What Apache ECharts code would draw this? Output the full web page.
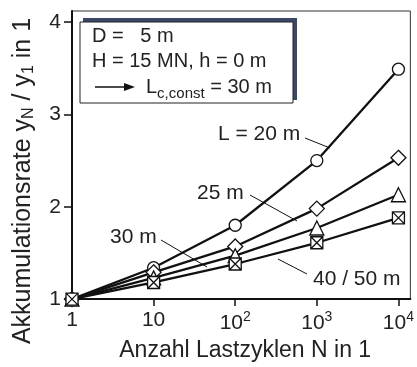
<!DOCTYPE html>
<html><head><meta charset="utf-8">
<script src="https://cdn.jsdelivr.net/npm/echarts@6/dist/echarts.min.js"></script>
<style>html,body{margin:0;padding:0;background:#fff}#c{width:417px;height:367px}</style>
</head><body><div id="c"></div>
<script>
// ---- data ----
const cycles = [1, 10, 100, 1000, 10000];
const valsL20 = [1, 1.34, 1.80, 2.50, 3.49];
const valsL25 = [1, 1.29, 1.57, 1.98, 2.53];
const valsL30 = [1, 1.23, 1.47, 1.77, 2.13];
const valsL4050 = [1, 1.18, 1.38, 1.61, 1.88];
const yTicks = [1, 2, 3, 4];
const xTicks = [1, 10, 100, 1000, 10000];
const seriesNames = ['L = 20 m', '25 m', '30 m', '40 / 50 m'];

const FONT = '"Liberation Sans", Arial, sans-serif';
const TXT = '#222';
const INK = '#111';

function pairs(vals){ return cycles.map((n,i)=>[n, vals[i]]); }

const xSquare = 'path://M0 0H10V10H0Z M0 0L10 10 M10 0L0 10';

function mk(name, vals, symbol, size){
  return {
    name, type:'line', data: pairs(vals), symbol, symbolSize: size,
    lineStyle:{color:INK, width:2.3},
    itemStyle:{color:'#fff', borderColor:INK, borderWidth:1.3},
    emphasis:{disabled:true}, animation:false, z:3
  };
}

const chart = echarts.init(document.getElementById('c'), null, {renderer:'canvas'});
chart.setOption({
  animation:false,
  backgroundColor:'#fff',
  textStyle:{fontFamily:FONT},
  grid:{left:72, right:5, top:11, bottom:63, show:true, borderColor:'#333', borderWidth:1, backgroundColor:'transparent'},
  xAxis:{
    type:'log', logBase:10, min:1, max:14000,
    axisLine:{show:true, lineStyle:{color:INK, width:2}},
    axisTick:{show:true, inside:false, length:7, lineStyle:{color:INK, width:1.5}, customValues:xTicks},
    minorTick:{show:false},
    splitLine:{show:false},
    axisLabel:{
      customValues:xTicks, margin:11, fontSize:21, color:TXT, fontFamily:FONT,
      formatter:function(v){
        const e = Math.round(Math.log10(v));
        if (e===0) return '1';
        if (e===1) return '10';
        return '10{sup|'+e+'}';
      },
      rich:{sup:{fontSize:14, color:TXT, fontFamily:FONT, padding:[0,0,13,0]}}
    },
    name:'Anzahl Lastzyklen N in 1', nameLocation:'middle', nameGap:38,
    nameTextStyle:{fontSize:23, color:TXT, fontFamily:FONT, padding:[0,0,0,8]}
  },
  yAxis:{
    type:'value', min:1, max:4.12,
    axisLine:{show:true, lineStyle:{color:INK, width:2}},
    axisTick:{show:true, inside:false, length:8, lineStyle:{color:INK, width:1.5}, customValues:yTicks},
    splitLine:{show:false},
    axisLabel:{customValues:yTicks, margin:11, fontSize:21, color:TXT, fontFamily:FONT}
  },
  series:[
    mk(seriesNames[0], valsL20, 'circle', 12),
    mk(seriesNames[1], valsL25, 'diamond', 15),
    mk(seriesNames[2], valsL30, 'triangle', 14),
    mk(seriesNames[3], valsL4050, xSquare, 12)
  ],
  graphic:[
    // y axis title
    {type:'text', x:23, y:181, rotation:Math.PI/2, z:10,
     style:{text:'Akkumulationsrate y{sub|N} / y{sub|1} in 1', font:'25px '+FONT, fill:TXT, align:'center', verticalAlign:'middle',
       rich:{sub:{fontSize:16, fill:TXT, fontFamily:FONT, padding:[12,0,0,0]}}}},
    // info box shadow + box
    {type:'rect', shape:{x:83, y:18, width:214, height:82}, style:{fill:'#3a4767'}, z:10},
    {type:'rect', shape:{x:80, y:22, width:213, height:81}, style:{fill:'#fff', stroke:'#222', lineWidth:1}, z:11},
    {type:'text', x:92, y:36, z:12, style:{text:'D =   5 m', font:'20px '+FONT, fill:TXT, verticalAlign:'middle'}},
    {type:'text', x:92, y:61, z:12, style:{text:'H = 15 MN, h = 0 m', font:'20px '+FONT, fill:TXT, verticalAlign:'middle'}},
    {type:'line', shape:{x1:95, y1:87, x2:127, y2:87}, style:{stroke:INK, lineWidth:1.5}, z:12},
    {type:'polygon', shape:{points:[[124,83],[135,87],[124,91]]}, style:{fill:INK}, z:12},
    {type:'text', x:146, y:87, z:12, style:{text:'L{sub|c,const} = 30 m', font:'20px '+FONT, fill:TXT, verticalAlign:'middle',
       rich:{sub:{fontSize:15, fill:TXT, fontFamily:FONT, padding:[14,0,0,0]}}}},
    // line labels
    {type:'text', x:218, y:134, z:12, style:{text:'L = 20 m', font:'21px '+FONT, fill:TXT, verticalAlign:'middle'}},
    {type:'line', shape:{x1:305, y1:138, x2:330, y2:148}, style:{stroke:INK, lineWidth:1}, z:12},
    {type:'text', x:197, y:193, z:12, style:{text:'25 m', font:'21px '+FONT, fill:TXT, verticalAlign:'middle'}},
    {type:'line', shape:{x1:250, y1:195, x2:297, y2:221}, style:{stroke:INK, lineWidth:1}, z:12},
    {type:'text', x:110, y:237, z:12, style:{text:'30 m', font:'21px '+FONT, fill:TXT, verticalAlign:'middle'}},
    {type:'line', shape:{x1:161, y1:240, x2:207, y2:267}, style:{stroke:INK, lineWidth:1}, z:12},
    {type:'text', x:313, y:279, z:12, style:{text:'40 / 50 m', font:'21px '+FONT, fill:TXT, verticalAlign:'middle'}},
    {type:'line', shape:{x1:278, y1:259, x2:307, y2:274}, style:{stroke:INK, lineWidth:1}, z:12}
  ]
});
</script></body></html>
